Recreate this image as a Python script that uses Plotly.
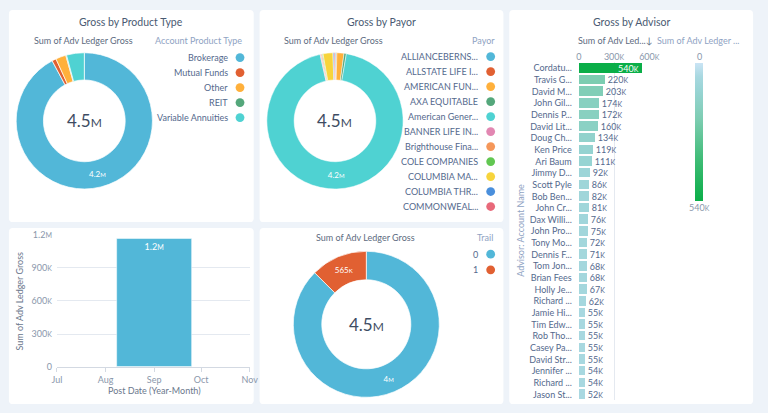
import plotly.graph_objects as go

# ---------------- data ----------------
product_types = ["Brokerage", "Mutual Funds", "Other", "REIT", "Variable Annuities"]
product_gross = [4160000, 45000, 110000, 8000, 190000]
product_colors = ["#52B7D8", "#E16032", "#FFB03B", "#54A77B", "#4FD2D2"]

payors = ["ALLIANCEBERNS...", "ALLSTATE LIFE I...", "AMERICAN FUN...", "AXA EQUITABLE",
          "American Gener...", "BANNER LIFE IN...", "Brighthouse Fina...", "COLE COMPANIES",
          "COLUMBIA MA...", "COLUMBIA THR...", "COMMONWEAL..."]
payor_gross = [12000, 8000, 75000, 25000, 4200000, 10000, 12000, 9000, 105000, 11000, 10000]
payor_colors = ["#52B7D8", "#E16032", "#FFB03B", "#54A77B", "#4FD2D2", "#E287B2",
                "#F5975A", "#62C752", "#F7D43C", "#4A8FDC", "#E8697A"]

trail_values = ["0", "1"]
trail_gross = [3950000, 565000]
trail_colors = ["#52B7D8", "#E16032"]

post_months = ["2018-09-01"]
post_gross = [1160000]
month_ticks = ["2018-07-01", "2018-08-01", "2018-09-01", "2018-10-01", "2018-11-01"]
gross_ticks = [0, 300000, 600000, 900000, 1200000]

advisors = ["Cordatu...", "Travis G...", "David M...", "John Gil...", "Dennis P...",
            "David Lit...", "Doug Ch...", "Ken Price", "Ari Baum", "Jimmy D...",
            "Scott Pyle", "Bob Ben...", "John Cr...", "Dax Willi...", "John Pro...",
            "Tony Mo...", "Dennis F...", "Tom Jon...", "Brian Fees", "Holly Je...",
            "Richard ...", "Jamie Hi...", "Tim Edw...", "Rob Tho...", "Casey Pa...",
            "David Str...", "Jennifer ...", "Richard ...", "Jason St..."]
advisor_gross = [540000, 220000, 203000, 174000, 172000, 160000, 134000, 119000, 111000,
                 92000, 86000, 82000, 81000, 76000, 75000, 72000, 71000, 68000, 68000,
                 67000, 62000, 55000, 55000, 55000, 55000, 55000, 54000, 54000, 52000]
advisor_ticks = [0, 300000, 600000]

# ---------------- style ----------------
W, H = 768, 413
BG = "#eef3f9"
FONT = "Lato"
TXT = "#54698d"
DARK = "#3e4c63"
LIGHT = "#8fa3c3"
AXT = "#8a97ab"
GRID = "#e4e9f0"
FS = 9
adv_scale = [[0, "#cae4f5"], [0.1, "#a8d8e0"], [0.2, "#98d4d4"], [0.4, "#7ecdb3"],
             [0.7, "#3fbc76"], [1, "#0aae48"]]


def X(px):
    return px / W


def Y(py):
    return 1 - py / H


def fmt(v, small=None):
    if v >= 1e6:
        s, u = (f"{v / 1e6:.1f}").rstrip("0").rstrip("."), "M"
    elif v >= 1e3:
        s, u = str(int(round(v / 1e3))), "K"
    else:
        s, u = str(int(v)), ""
    if small and u:
        return f"{s}<span style='font-size:{small}px'>{u}</span>"
    return s + u


def big_only(vals, size):
    m = max(vals)
    return [fmt(v, size) if v == m else "" for v in vals]


fig = go.Figure()

# ---- panel 1: product type donut (center 81,118 r 70)
fig.add_trace(go.Pie(
    labels=product_types, values=product_gross, hole=0.6, sort=False,
    direction="clockwise", rotation=0,
    marker=dict(colors=product_colors, line=dict(color="white", width=0.7)),
    text=big_only(product_gross, 6), textinfo="text", textposition="inside",
    insidetextorientation="horizontal", textfont=dict(color="white", size=8, family=FONT),
    domain=dict(x=[X(11), X(151)], y=[Y(188), Y(48)]), showlegend=False))

# ---- panel 2: payor donut (center 337,118 r 70)
fig.add_trace(go.Pie(
    labels=payors, values=payor_gross, hole=0.6, sort=False,
    direction="clockwise", rotation=0,
    marker=dict(colors=payor_colors, line=dict(color="white", width=0.5)),
    text=big_only(payor_gross, 6), textinfo="text", textposition="inside",
    insidetextorientation="horizontal", textfont=dict(color="white", size=8, family=FONT),
    domain=dict(x=[X(267), X(407)], y=[Y(188), Y(48)]), showlegend=False))

# ---- panel 5: trail donut (center 369,327 r 75)
fig.add_trace(go.Pie(
    labels=trail_values, values=trail_gross, hole=0.61, sort=False,
    direction="clockwise", rotation=0,
    marker=dict(colors=trail_colors, line=dict(color="white", width=0.7)),
    text=[fmt(v, 6) for v in trail_gross], textinfo="text", textposition="inside",
    insidetextorientation="horizontal", textfont=dict(color="white", size=8, family=FONT),
    domain=dict(x=[X(294), X(444)], y=[Y(402), Y(252)]), showlegend=False))

# ---- panel 4: bar by month
fig.add_trace(go.Bar(
    x=post_months, y=post_gross, width=48 * 24 * 3600 * 1000,
    marker=dict(color="#52B7D8", line=dict(color="white", width=0.5)),
    text=[fmt(v, 7) for v in post_gross], textposition="inside", insidetextanchor="end",
    textfont=dict(color="white", size=FS, family=FONT), constraintext="none",
    xaxis="x", yaxis="y", showlegend=False))

# ---- panel 3: advisor bars
fig.add_trace(go.Bar(
    x=advisor_gross, y=list(range(len(advisors))), orientation="h", width=0.82,
    marker=dict(color=advisor_gross, colorscale=adv_scale, cmin=0, cmax=max(advisor_gross),
                line=dict(width=0)),
    text=[fmt(v, 7) for v in advisor_gross],
    textposition=["inside" if v == max(advisor_gross) else "outside" for v in advisor_gross],
    insidetextanchor="end", constraintext="none", cliponaxis=False,
    insidetextfont=dict(color="white", size=FS, family=FONT),
    outsidetextfont=dict(color=TXT, size=FS, family=FONT),
    xaxis="x2", yaxis="y2", showlegend=False))

# colour legend for the advisor bars (0 at top, max at bottom)
fig.add_trace(go.Scatter(
    x=[None], y=[None], mode="markers", xaxis="x2", yaxis="y2", showlegend=False,
    hoverinfo="skip",
    marker=dict(color=[0], cmin=0, cmax=max(advisor_gross),
                colorscale=[[1 - p, c] for p, c in adv_scale][::-1],
                showscale=True,
                colorbar=dict(x=X(705), xanchor="left", y=Y(129), yanchor="middle",
                              thickness=8, thicknessmode="pixels", len=138, lenmode="pixels",
                              outlinewidth=0, showticklabels=False, ticks="", xpad=0, ypad=0))))

# ---------------- layout ----------------
shapes = []


def rrect(x0, y0, x1, y1, r=4):
    p = (f"M {X(x0 + r)},{Y(y0)} L {X(x1 - r)},{Y(y0)} Q {X(x1)},{Y(y0)} {X(x1)},{Y(y0 + r)} "
         f"L {X(x1)},{Y(y1 - r)} Q {X(x1)},{Y(y1)} {X(x1 - r)},{Y(y1)} "
         f"L {X(x0 + r)},{Y(y1)} Q {X(x0)},{Y(y1)} {X(x0)},{Y(y1 - r)} "
         f"L {X(x0)},{Y(y0 + r)} Q {X(x0)},{Y(y0)} {X(x0 + r)},{Y(y0)} Z")
    return dict(type="path", path=p, xref="paper", yref="paper", fillcolor="white",
                line=dict(width=0), layer="below")


for box in [(4, 4, 254, 222), (260, 4, 509, 222), (515, 4, 764, 409),
            (4, 228, 254, 409), (260, 228, 509, 409)]:
    shapes.append(rrect(*box))

annotations = []


def txt(x, y, s, size=FS, color=TXT, xanchor="center", angle=0):
    annotations.append(dict(x=X(x), y=Y(y), xref="paper", yref="paper", text=s,
                            showarrow=False, xanchor=xanchor, yanchor="middle",
                            textangle=angle,
                            font=dict(family=FONT, size=size, color=color)))


def legend(title, title_x, title_y, labels, colors, text_x, dot_x, y0, dy):
    txt(title_x, title_y, title, FS, LIGHT, "right")
    for i, (lab, col) in enumerate(zip(labels, colors)):
        yy = y0 + i * dy
        txt(text_x, yy, lab, FS, TXT, "right")
        shapes.append(dict(type="circle", xref="paper", yref="paper",
                           x0=X(dot_x - 4.5), x1=X(dot_x + 4.5), y0=Y(yy + 4.5), y1=Y(yy - 4.5),
                           fillcolor=col, line=dict(width=0)))


# titles
txt(129, 16, "Gross by Product Type", 10.5, "#4a5a72")
txt(385, 16, "Gross by Payor", 10.5, "#4a5a72")
txt(640, 16, "Gross by Advisor", 10.5, "#4a5a72")
txt(80, 35, "Sum of Adv Ledger Gross", FS, "#5d6b80")
txt(335, 35, "Sum of Adv Ledger Gross", FS, "#5d6b80")
txt(368, 238, "Sum of Adv Ledger Gross", FS, "#5d6b80")
txt(623, 35, "Sum of Adv Led...↓", FS, "#5d6b80")
txt(708, 35, "Sum of Adv Ledger ...", FS, LIGHT)
txt(709, 52, fmt(0), FS, AXT)
txt(709, 207, fmt(max(advisor_gross), 7), FS, AXT)

# donut centres
txt(81, 118, fmt(sum(product_gross), 12), 17, DARK)
txt(337, 118, fmt(sum(payor_gross), 12), 17, DARK)
txt(369, 327, fmt(sum(trail_gross), 12), 17, DARK)

legend("Account Product Type", 244, 35, product_types, product_colors, 230, 240, 53, 15.4)
legend("Payor", 502, 35, payors, payor_colors, 485, 496, 52, 15.4)
legend("Trail", 500, 238, trail_values, trail_colors, 485, 496, 255, 16)

# axis titles
txt(15, 303, "Sum of Adv Ledger Gross", FS, "#6b778c", angle=-90)
txt(153, 395, "Post Date (Year-Month)", FS, "#6b778c")
txt(527, 231, "Advisor: Account Name", FS, LIGHT, angle=-90)

fig.update_layout(
    width=W, height=H, autosize=False,
    margin=dict(l=0, r=0, t=0, b=0),
    paper_bgcolor=BG, plot_bgcolor="rgba(0,0,0,0)",
    font=dict(family=FONT, size=FS, color=TXT),
    shapes=shapes, annotations=annotations, bargap=0,
    xaxis=dict(domain=[X(53), X(250)], anchor="y", type="date",
               range=[month_ticks[0], month_ticks[-1]], tickvals=month_ticks, tickformat="%b",
               showgrid=False, zeroline=False, showline=True, linecolor="#d3d9e2", linewidth=1,
               ticks="outside", ticklen=4, tickcolor="#d3d9e2",
               tickfont=dict(size=FS, color=AXT)),
    yaxis=dict(domain=[Y(371), Y(235)], anchor="x", range=[0, gross_ticks[-1]],
               tickvals=gross_ticks, ticktext=[fmt(v, 7) for v in gross_ticks],
               showgrid=True, gridcolor=GRID, zeroline=False, showline=False,
               tickfont=dict(size=FS, color=AXT), ticklabelstandoff=4),
    xaxis2=dict(domain=[X(586), X(658)], anchor="y2", side="top",
                range=[0, advisor_ticks[-1]], tickvals=advisor_ticks,
                ticktext=[fmt(v, 7) for v in advisor_ticks],
                showgrid=True, gridcolor=GRID, zeroline=False, showline=False,
                tickfont=dict(size=FS, color=AXT)),
    yaxis2=dict(domain=[Y(405), Y(58)], anchor="x2",
                range=[len(advisors) - 0.5, -0.5],
                tickvals=list(range(len(advisors))), ticktext=advisors,
                showgrid=False, zeroline=False, showline=False,
                tickfont=dict(size=FS, color=TXT), ticklabelstandoff=6),
)

fig.write_html("out.html", config={"displayModeBar": False},
               post_script="document.body.style.margin='0';")
